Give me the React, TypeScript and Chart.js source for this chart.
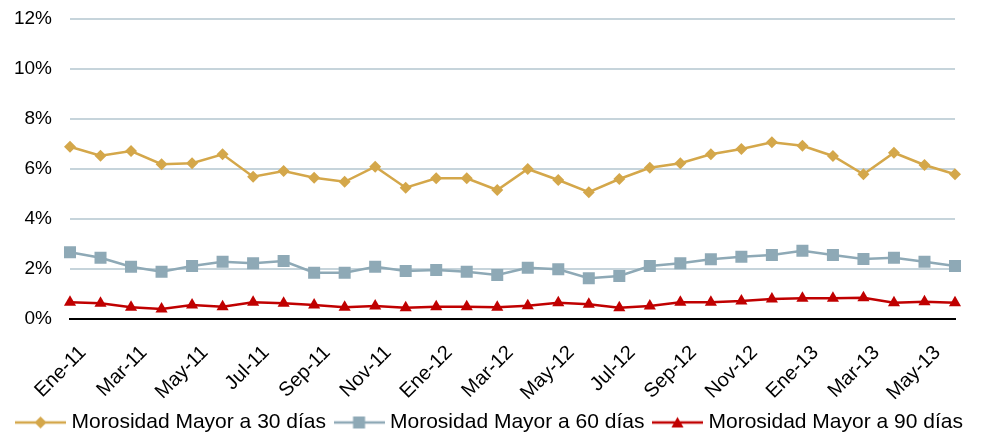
import React, { useEffect, useRef } from "react";
import { Chart, registerables } from "chart.js";

Chart.register(...registerables);

const months = ["Ene", "Feb", "Mar", "Abr", "May", "Jun", "Jul", "Ago", "Sep", "Oct", "Nov", "Dic"];
const years = ["11", "12", "13"];
const categories: string[] = [];
for (const y of years) for (const m of months) categories.push(`${m}-${y}`);
const labels = categories.slice(0, 30);

const mora30 = [6.89, 6.53, 6.72, 6.19, 6.23, 6.59, 5.69, 5.92, 5.65, 5.49, 6.09, 5.25, 5.63, 5.63, 5.16, 6.0, 5.56, 5.07, 5.6, 6.05, 6.23, 6.59, 6.8, 7.07, 6.93, 6.52, 5.79, 6.65, 6.16, 5.79];
const mora60 = [2.67, 2.45, 2.09, 1.89, 2.12, 2.29, 2.23, 2.32, 1.85, 1.85, 2.09, 1.92, 1.96, 1.89, 1.76, 2.05, 1.99, 1.63, 1.72, 2.12, 2.23, 2.39, 2.49, 2.56, 2.73, 2.56, 2.4, 2.45, 2.29, 2.12];
const mora90 = [0.67, 0.63, 0.47, 0.4, 0.56, 0.49, 0.67, 0.63, 0.56, 0.47, 0.52, 0.45, 0.49, 0.49, 0.47, 0.53, 0.65, 0.59, 0.45, 0.52, 0.67, 0.67, 0.72, 0.8, 0.83, 0.83, 0.85, 0.65, 0.69, 0.65];

const seriesNames = ["Morosidad Mayor a 30 días", "Morosidad Mayor a 60 días", "Morosidad Mayor a 90 días"];
const yTicks = [0, 2, 4, 6, 8, 10, 12];

const GOLD = "#D4A74A";
const BLUE = "#8EA9B6";
const RED = "#C00000";
const FONT = "'Liberation Sans', Arial, sans-serif";
const ICON_W = 51;

function makeLegendIcon(color: string, style: string, r: number): HTMLCanvasElement {
  const c = document.createElement("canvas");
  c.width = ICON_W;
  c.height = 16;
  const g = c.getContext("2d")!;
  g.strokeStyle = color;
  g.lineWidth = 2.5;
  g.beginPath();
  g.moveTo(0, 8);
  g.lineTo(ICON_W, 8);
  g.stroke();
  g.fillStyle = color;
  g.beginPath();
  const cx = ICON_W / 2, cy = 8;
  if (style === "rectRot") {
    g.moveTo(cx, cy - r);
    g.lineTo(cx + r, cy);
    g.lineTo(cx, cy + r);
    g.lineTo(cx - r, cy);
  } else if (style === "rect") {
    const s = r * Math.SQRT1_2;
    g.rect(cx - s, cy - s, 2 * s, 2 * s);
  } else {
    for (let i = 0; i < 3; i++) {
      const a = (i * 2 * Math.PI) / 3;
      const px = cx + Math.sin(a) * r;
      const py = cy + 1.5 - Math.cos(a) * r;
      if (i === 0) g.moveTo(px, py);
      else g.lineTo(px, py);
    }
  }
  g.closePath();
  g.fill();
  return c;
}

export default function App() {
  const ref = useRef<HTMLCanvasElement>(null);
  useEffect(() => {
    document.body.style.margin = "0";
    const styles = [
      { color: GOLD, ps: "rectRot", r: 6 },
      { color: BLUE, ps: "rect", r: 8.5 },
      { color: RED, ps: "triangle", r: 7 },
    ];
    const icons = styles.map((s) => makeLegendIcon(s.color, s.ps, s.r));
    const data = [mora30, mora60, mora90];
    const chart = new Chart(ref.current!, {
      type: "line",
      data: {
        labels,
        datasets: data.map((d, i) => ({
          label: seriesNames[i],
          data: d,
          borderColor: styles[i].color,
          backgroundColor: styles[i].color,
          borderWidth: 2.5,
          pointStyle: styles[i].ps as any,
          pointRadius: styles[i].r,
          pointBorderWidth: 0,
          pointBackgroundColor: styles[i].color,
          tension: 0,
          fill: false,
        })),
      },
      options: {
        responsive: false,
        animation: false,
        devicePixelRatio: 1,
        layout: { padding: { left: 0, right: 0, top: 0, bottom: -5 } },
        plugins: {
          tooltip: { enabled: false },
          legend: {
            position: "bottom",
            labels: {
              usePointStyle: true,
              pointStyleWidth: 41,
              padding: 12.5,
              color: "#000",
              font: { family: FONT, size: 21 },
              generateLabels: (ch: any) =>
                ch.data.datasets.map((ds: any, i: number) => ({
                  text: ds.label,
                  pointStyle: icons[i],
                  fillStyle: ds.borderColor,
                  strokeStyle: ds.borderColor,
                  lineWidth: 0,
                  hidden: false,
                  datasetIndex: i,
                  fontColor: "#000",
                })),
            },
          },
        },
        scales: {
          x: {
            grid: { display: false, drawTicks: false },
            border: { display: true, color: "#000", width: 2 },
            afterFit: (s: any) => {
              s.paddingLeft = 0;
              s.paddingRight = 28;
              s.height = 80.5;
            },
            ticks: {
              autoSkip: false,
              maxRotation: 45,
              minRotation: 45,
              padding: 22,
              labelOffset: 13,
              color: "#000",
              font: { family: FONT, size: 20 },
              callback: (_v: any, i: number) => (i % 2 === 0 ? labels[i] : ""),
            },
          },
          y: {
            min: 0,
            max: 12,
            afterBuildTicks: (axis: any) => {
              axis.ticks = yTicks.map((v) => ({ value: v }));
            },
            afterFit: (s: any) => {
              s.width = 70;
              s.paddingTop = 19;
              s.paddingBottom = 0;
            },
            grid: { color: "#C6D4DB", lineWidth: 2, drawTicks: false },
            border: { display: false },
            ticks: {
              padding: 18,
              color: "#000",
              font: { family: FONT, size: 19 },
              callback: (v: any) => `${v}%`,
            },
          },
        },
      },
    });
    return () => chart.destroy();
  }, []);
  return <canvas ref={ref} width={983} height={438} style={{ display: "block" }} />;
}
